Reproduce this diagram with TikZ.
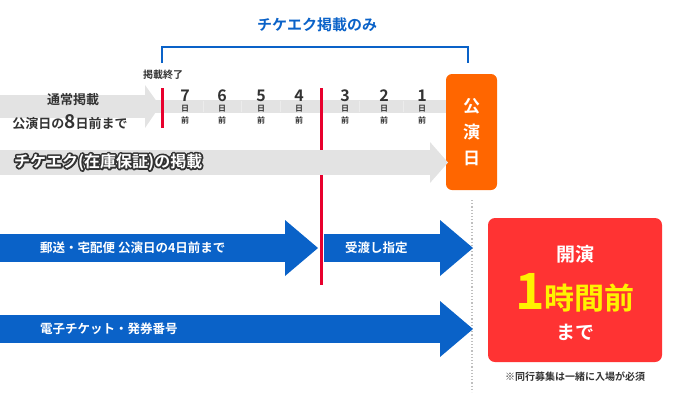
\documentclass[tikz,border=0pt]{standalone}
\usepackage{fontspec}
\newfontfamily\jp{Noto Sans CJK JP Bold}
\definecolor{tkblue}{HTML}{0A62C8}
\definecolor{tkgray}{HTML}{E3E3E3}
\definecolor{tkred}{HTML}{E8002D}
\definecolor{tkorange}{HTML}{FF6600}
\definecolor{tkbox}{HTML}{FF3333}
\definecolor{tkyellow}{HTML}{FFF200}
\definecolor{tktext}{HTML}{333333}
\newcommand{\outlined}[1]{\special{pdf:literal 0.2 G 3.5 w 1 j 2 Tr}#1\special{pdf:literal 0 Tr}}
\tikzset{
  lbl/.style={font=\jp\fontsize{12}{15}\selectfont, text=tktext, inner sep=0pt},
  wlbl/.style={font=\jp\fontsize{12.5}{15}\selectfont, text=white, inner sep=0pt, anchor=west},
  daynum/.style={font=\jp\fontsize{16}{16}\selectfont, text=tktext, inner sep=0pt},
  daysub/.style={font=\jp\fontsize{8}{8}\selectfont, text=tktext, inner sep=0pt},
  redline/.style={tkred, line width=3pt},
}
\begin{document}
\begin{tikzpicture}[x=1pt,y=-1pt]
  \useasboundingbox (0,0) rectangle (676,410);

  % top bracket
  \node[lbl, font=\jp\fontsize{15}{17}\selectfont, text=tkblue] (only) at (317,25) {チケエク掲載のみ};
  \draw[tkblue, line width=2pt] (162,63) -- (162,47) -- (468,47) -- (468,63);

  % normal listing row
  \fill[tkgray] (0,100) rectangle (455,113);
  \fill[tkgray] (0,95) rectangle (145,118);
  \fill[tkgray] (145,85) -- (160,106) -- (145,128) -- cycle;
  \node[lbl, font=\jp\fontsize{13}{15}\selectfont] (normal) at (73,100) {通常掲載};
  \node[lbl, font=\jp\fontsize{13}{15}\selectfont] (until8) at (70,122) {公演日の{\fontsize{19}{19}\selectfont 8}日前まで};
  \draw[redline] (162,88) -- (162,128);
  \node[lbl, font=\jp\fontsize{10}{11}\selectfont] (end) at (163,75) {掲載終了};
  \foreach \n/\x in {7/185,6/222,5/261,4/299,3/345,2/384,1/422} {
    \node[daynum] (d\n) at (\x,96) {\n};
    \node[daysub] at (\x,109) {日};
    \node[daysub] at (\x,120) {前};
  }
  \foreach \x in {203,241,280,359,403} \draw[white!85!gray] (\x,101) -- (\x,112);
  \draw[redline] (321,88) -- (321,285);

  % performance day
  \node[fill=tkorange, rounded corners=6pt, minimum width=51pt, minimum height=116pt,
        inner sep=0pt, text=white, font=\jp\fontsize{17}{26}\selectfont, align=center]
        (day) at (471.5,132) {公\\演\\日};

  % guaranteed listing arrow
  \fill[tkgray] (0,150) rectangle (430,175);
  \fill[tkgray] (430,142) -- (448,162.5) -- (430,183) -- cycle;
  \node[wlbl, font=\jp\fontsize{16}{18}\selectfont, text=tktext] (guarbg) at (14,162) {\outlined{チケエク(在庫保証)の掲載}};
  \node[wlbl, font=\jp\fontsize{16}{18}\selectfont] (guar) at (guarbg.west) {チケエク(在庫保証)の掲載};

  % dotted separator
  \draw[gray!50, dotted, line width=1.2pt] (472,200) -- (472,392);

  % delivery arrows
  \fill[tkblue] (0,234) rectangle (285,262);
  \fill[tkblue] (285,220) -- (318,248) -- (285,276) -- cycle;
  \node[wlbl] (mail) at (40,248) {郵送・宅配便 公演日の4日前まで};
  \fill[tkblue] (324,234) rectangle (440,262);
  \fill[tkblue] (440,220) -- (473,248) -- (440,276) -- cycle;
  \node[wlbl] (hand) at (345,248) {受渡し指定};
  \fill[tkblue] (0,315) rectangle (440,343);
  \fill[tkblue] (440,301) -- (473,329) -- (440,357) -- cycle;
  \node[wlbl] (etix) at (40,329) {電子チケット・発券番号};

  % one hour before box
  \fill[tkbox, rounded corners=7pt] (488,218) rectangle (662,362);
  \node[wlbl, anchor=center, font=\jp\fontsize{19}{21}\selectfont] (open) at (575,254) {開演};
  \node[inner sep=0pt, text=tkyellow, font=\jp\fontsize{30}{34}\selectfont] (hour) at (575,293)
       {{\fontsize{50}{50}\selectfont 1}時間前};
  \node[wlbl, anchor=center, font=\jp\fontsize{19}{21}\selectfont] (till) at (575,332) {まで};
  \node[lbl, font=\jp\fontsize{10}{11}\selectfont] (note) at (575,377) {※同行募集は一緒に入場が必須};
\end{tikzpicture}
\end{document}
